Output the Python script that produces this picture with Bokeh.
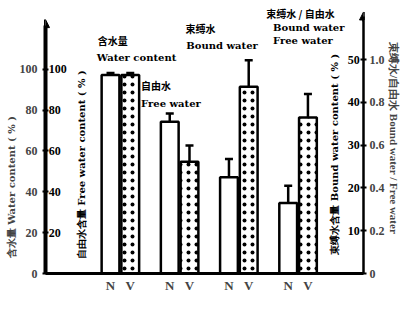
import math
from bokeh.plotting import figure
from bokeh.models import (Range1d, LinearAxis, FixedTicker, Whisker, TeeHead, Label, Title,
                          ColumnDataSource, CustomJSTickFormatter, Arrow, NormalHead)
from bokeh.core.properties import value
from bokeh.embed import file_html
from bokeh.resources import INLINE

# ---------------- data ----------------
groups = ["含水量", "自由水", "束缚水", "束缚水/自由水"]
treatments = ["N", "V"]
n_values = [97.2, 74.3, 22.5, 0.33]
v_values = [97.2, 54.7, 43.7, 0.73]
n_errors = [1.0, 4.0, 4.3, 0.08]
v_errors = [1.0, 8.0, 6.2, 0.11]
group_axis = ["default", "default", "bw", "ratio"]

water_ticks = [0, 20, 40, 60, 80, 100]
free_ticks = [20, 40, 60, 80, 100]
bound_ticks = [10, 20, 30, 40, 50]
ratio_ticks = [0, 0.2, 0.4, 0.6, 0.8, 1.0]

# ---------------- geometry (reference px -> canvas px) ----------------
W, H = 403, 295
SX, SY = 0.963, 0.955
FL, FR, FT, FB = 45, 363, 2, 273
frame_w, frame_h = FR - FL, FB - FT
XU = 10.25 * SX                 # px per x unit
GSTEP = 6                       # group spacing in x units
x_start = -(124.5 * SX - FL) / XU
x_end = x_start + frame_w / XU
L_PPU = (FB - 72 * SY) / 100.0
R_PPU = (FB - 62 * SY) / 50.0
y_left_end = frame_h / L_PPU
y_bw_end = frame_h / R_PPU
y_ratio_end = y_bw_end / 50.0


def dx(ix):
    return x_start + (ix * SX - FL) / XU


def dyl(iy):
    return (FB - iy * SY) / L_PPU


p = figure(width=W, height=H, x_range=Range1d(x_start, x_end),
           y_range=Range1d(0, y_left_end), output_backend="svg",
           toolbar_location=None, title=None,
           min_border_left=FL, min_border_right=W - FR,
           min_border_top=FT, min_border_bottom=H - FB)
p.extra_y_ranges = {"bw": Range1d(0, y_bw_end), "ratio": Range1d(0, y_ratio_end)}
p.outline_line_color = None
p.xgrid.visible = False
p.ygrid.visible = False
p.background_fill_color = "white"
p.border_fill_color = "white"

SERIF = "Liberation Serif"
TXT = "DejaVu Serif"
CJK = "Noto Sans CJK SC"

# ---------------- bars + error bars ----------------
for i, g in enumerate(groups):
    rng = group_axis[i]
    cx = GSTEP * i
    src = ColumnDataSource(dict(
        x=[cx - 1, cx + 1],
        upper=[n_values[i] + n_errors[i], v_values[i] + v_errors[i]],
        lower=[n_values[i] - n_errors[i], v_values[i] - v_errors[i]],
    ))
    nsrc = ColumnDataSource(dict(x=[cx - 1], top=[n_values[i]]))
    vsrc = ColumnDataSource(dict(x=[cx + 1], top=[v_values[i]]))
    p.vbar(x="x", top="top", width=1.8, source=nsrc, y_range_name=rng,
           fill_color="white", line_color="black", line_width=2.5)
    p.vbar(x="x", top="top", width=1.8, source=vsrc, y_range_name=rng,
           fill_color="white", line_color="black", line_width=2.5,
           hatch_pattern="dot", hatch_color="black", hatch_scale=8, hatch_weight=0.6)
    p.add_layout(Whisker(source=src, base="x", upper="upper", lower="lower",
                         y_range_name=rng, line_width=2.5, line_color="black",
                         upper_head=TeeHead(size=8, line_width=2.5, line_color="black"),
                         lower_head=TeeHead(size=8, line_width=2.5, line_color="black")))

# ---------------- axes ----------------
tick_pos, tick_lab = [], {}
for i, g in enumerate(groups):
    for j, t in enumerate(treatments):
        pos = GSTEP * i + (2 * j - 1)
        tick_pos.append(pos)
        tick_lab[pos] = t

xa = p.xaxis[0]
xa.ticker = FixedTicker(ticks=tick_pos)
xa.major_label_overrides = tick_lab
xa.major_tick_line_color = None
xa.major_tick_out = 0
xa.major_tick_in = 0
xa.minor_tick_line_color = None
xa.minor_tick_out = 0
xa.axis_line_width = 3
xa.major_label_text_font = SERIF
xa.major_label_text_font_style = "bold"
xa.major_label_text_font_size = "13px"
xa.major_label_standoff = 4

ya = p.yaxis[0]
ya.ticker = FixedTicker(ticks=water_ticks)
ya.bounds = (0, dyl(26))
ya.axis_line_width = 4
ya.major_tick_in = 3
ya.major_tick_out = 3
ya.major_tick_line_width = 2
ya.minor_tick_line_color = None
ya.minor_tick_out = 0
ya.major_label_text_font = SERIF
ya.major_label_text_font_style = "bold"
ya.major_label_text_font_size = "12px"
ya.major_label_standoff = 5

ra = LinearAxis(y_range_name="ratio", ticker=FixedTicker(ticks=ratio_ticks),
                formatter=CustomJSTickFormatter(code="return tick == 0 ? '0' : tick.toFixed(1);"))
ra.bounds = (0, y_ratio_end * (FB - 17 * SY) / frame_h)
ra.axis_line_width = 2.5
ra.major_tick_in = 3
ra.major_tick_out = 3
ra.major_tick_line_width = 2
ra.minor_tick_line_color = None
ra.minor_tick_out = 0
ra.major_label_text_font = SERIF
ra.major_label_text_font_style = "bold"
ra.major_label_text_font_size = "12px"
ra.major_label_standoff = 3
p.add_layout(ra, "right")

# outer titles (side panels)
p.add_layout(Title(text="含水量 Water content ( % )", align="left",
                   offset=FB - 270 * SY, standoff=0, text_font=TXT,
                   text_font_size="10px", text_font_style="bold"), "left")
p.add_layout(Title(text="束缚水/自由水 Bound water / Free water", align="center",
                   standoff=0, text_font=SERIF,
                   text_font_size="11px", text_font_style="bold"), "right")

# arrow heads at top of vertical axes
p.add_layout(Arrow(end=NormalHead(size=8, fill_color="black", line_color="black"),
                   x_start=x_start, y_start=dyl(30), x_end=x_start, y_end=dyl(20),
                   line_width=3, line_color="black"))
p.add_layout(Arrow(end=NormalHead(size=8, fill_color="black", line_color="black"),
                   x_start=x_end, y_start=dyl(22), x_end=x_end, y_end=dyl(12),
                   line_width=2.5, line_color="black"))

# inner tick labels (second scales)
p.text(x=[dx(50)] * len(free_ticks), y=free_ticks, text=[str(t) for t in free_ticks],
       text_font=value(SERIF), text_font_style="bold", text_font_size="12px",
       text_align="left", text_baseline="middle", text_color="black")
p.text(x=[dx(373)] * len(bound_ticks), y=bound_ticks, text=[str(t) for t in bound_ticks],
       y_range_name="bw",
       text_font=value(SERIF), text_font_style="bold", text_font_size="12px",
       text_align="right", text_baseline="middle", text_color="black")


# ---------------- texts ----------------
def lab(text, ix, iy, size="10px", font=TXT, angle=0.0, align="left"):
    p.add_layout(Label(x=dx(ix), y=dyl(iy), text=text, text_font=font,
                       text_font_size=size, text_font_style="bold",
                       text_align=align, text_baseline="middle", angle=angle,
                       text_color="black"))


lab("含水量", 101, 42, "10px", CJK)
lab("Water content", 100, 60, "10px")
lab("自由水", 146, 89, "10px", CJK)
lab("Free water", 146, 108, "10px")
lab("束缚水", 192, 29, "10px", CJK)
lab("Bound water", 193, 47, "10px")
lab("束缚水 / 自由水", 276, 14, "10px", CJK)
lab("Bound water", 283, 28, "10px")
lab("Free water", 283, 42, "10px")

V = math.pi / 2
lab("自由水含量 Free water content ( % )", 84, 172, "10px", angle=V, align="center")
lab("束缚水含量 Bound water content ( % )", 347, 161, "10px", angle=V, align="center")

open("out.html", "w").write(file_html(p, INLINE))
